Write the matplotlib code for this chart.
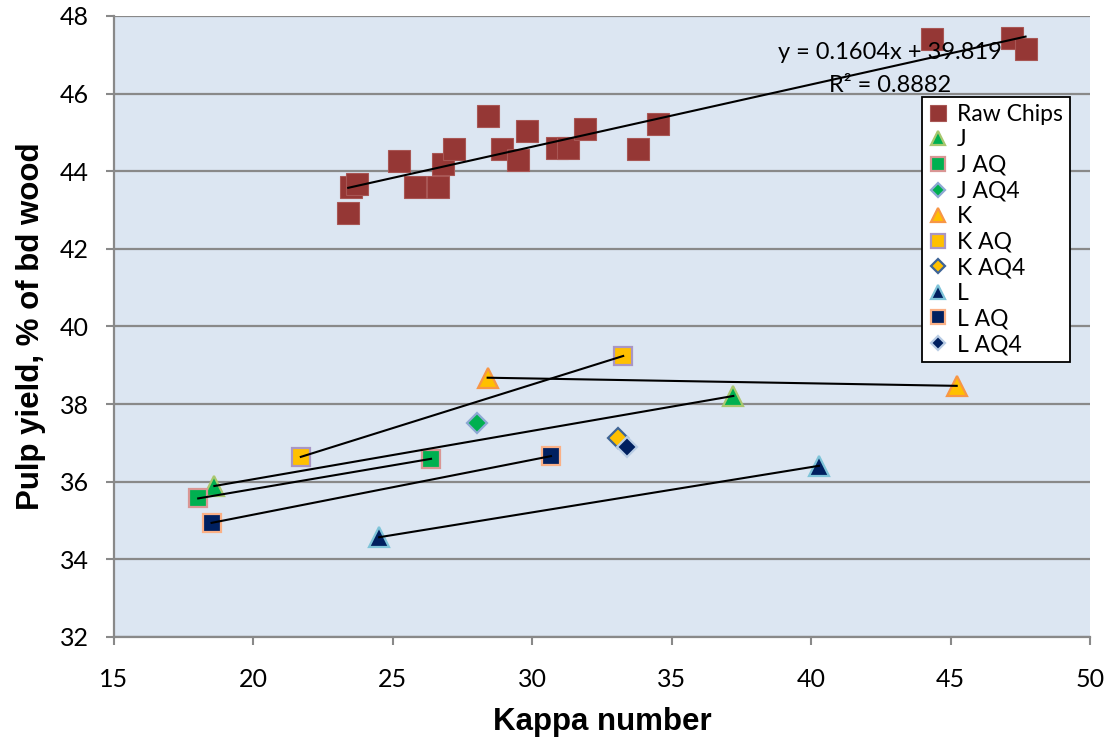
import matplotlib
matplotlib.use("Agg")
import matplotlib.pyplot as plt
import numpy as np

# Raw chips: kappa number vs pulp yield
raw_kappa = [23.40, 23.50, 23.70, 25.21, 25.80, 26.61, 26.81, 27.20, 28.40, 28.90,
             29.50, 29.80, 30.89, 31.29, 31.90, 33.80, 34.51, 44.32, 47.21, 47.69]
raw_yield = [42.93, 43.60, 43.67, 44.26, 43.60, 43.60, 44.19, 44.57, 45.41, 44.57,
             44.29, 45.04, 44.61, 44.61, 45.08, 44.57, 45.22, 47.40, 47.43, 47.14]

# Linear fit reported for raw chips
fit_slope = 0.1604
fit_intercept = 39.819
fit_r2 = 0.8882

# Treated series (kappa, yield)
j_kappa, j_yield = [18.60, 37.21], [35.89, 38.21]
jaq_kappa, jaq_yield = [18.02, 26.37], [35.57, 36.59]
jaq4_kappa, jaq4_yield = [28.02], [37.52]
k_kappa, k_yield = [28.40, 45.22], [38.68, 38.47]
kaq_kappa, kaq_yield = [21.70, 33.26], [36.64, 39.24]
kaq4_kappa, kaq4_yield = [33.08], [37.12]
l_kappa, l_yield = [24.51, 40.28], [34.57, 36.41]
laq_kappa, laq_yield = [18.50, 30.67], [34.94, 36.66]
laq4_kappa, laq4_yield = [33.38], [36.89]

x_ticks = [15, 20, 25, 30, 35, 40, 45, 50]
y_ticks = [32, 34, 36, 38, 40, 42, 44, 46, 48]

GREEN = "#00B050"
GOLD = "#FFC000"
NAVY = "#002060"

series = [
    ("Raw Chips", raw_kappa, raw_yield, "s", "#953735", "#A85654", 15.2, 0.8),
    ("J", j_kappa, j_yield, "^", GREEN, "#A9C76F", 14.0, 1.6),
    ("J AQ", jaq_kappa, jaq_yield, "s", GREEN, "#D99694", 13.5, 1.6),
    ("J AQ4", jaq4_kappa, jaq4_yield, "D", GREEN, "#8DA9D4", 10.0, 1.6),
    ("K", k_kappa, k_yield, "^", GOLD, "#F79646", 14.0, 1.6),
    ("K AQ", kaq_kappa, kaq_yield, "s", GOLD, "#A996C4", 13.5, 1.6),
    ("K AQ4", kaq4_kappa, kaq4_yield, "D", GOLD, "#3E6496", 10.0, 1.6),
    ("L", l_kappa, l_yield, "^", NAVY, "#7FC4D9", 14.0, 1.6),
    ("L AQ", laq_kappa, laq_yield, "s", NAVY, "#FAB086", 13.5, 1.6),
    ("L AQ4", laq4_kappa, laq4_yield, "D", NAVY, "#B9CDE5", 10.0, 1.6),
]

fig = plt.figure(figsize=(11.12, 7.43), dpi=100)
ax = fig.add_axes([0.1025, 0.1427, 0.8777, 0.8358])
ax.set_facecolor("#DCE6F2")

for label, xs, ys, mk, fc, ec, ms, mew in series:
    ax.plot(xs, ys, linestyle="none", marker=mk, markersize=ms,
            markerfacecolor=fc, markeredgecolor=ec, markeredgewidth=mew,
            label=label, zorder=3)

# Connecting lines for two-point series
for xs, ys in [(j_kappa, j_yield), (jaq_kappa, jaq_yield), (k_kappa, k_yield),
               (kaq_kappa, kaq_yield), (l_kappa, l_yield), (laq_kappa, laq_yield)]:
    ax.plot(xs, ys, color="black", linewidth=1.5, zorder=4)

# Raw chips trendline
fx = np.array([min(raw_kappa), max(raw_kappa)])
ax.plot(fx, fit_slope * fx + fit_intercept, color="black", linewidth=1.5, zorder=4)

ax.text(42.82, 47.05, f"y = {fit_slope}x + {fit_intercept}", ha="center", va="center",
        fontsize=17, family="Lato", zorder=5)
ax.text(42.82, 46.22, f"R² = {fit_r2}", ha="center", va="center",
        fontsize=17, family="Lato", zorder=5)

ax.set_xlim(15, 50)
ax.set_ylim(32, 48)
ax.set_xticks(x_ticks)
ax.set_yticks(y_ticks)
ax.yaxis.grid(True, color="#898989", linewidth=1.6)
ax.set_axisbelow(True)

for side in ("top", "right"):
    ax.spines[side].set_visible(False)
for side in ("left", "bottom"):
    ax.spines[side].set_color("#898989")
    ax.spines[side].set_linewidth(1.6)

ax.tick_params(axis="both", direction="out", color="#898989", width=1.5, length=6)
ax.tick_params(axis="x", pad=16)
ax.tick_params(axis="y", pad=12)
for lbl in ax.get_xticklabels() + ax.get_yticklabels():
    lbl.set_family("Lato")
    lbl.set_fontsize(18)

ax.set_xlabel("Kappa number", fontsize=22.5, fontweight="bold",
              family="Liberation Sans", labelpad=12)
ax.set_ylabel("Pulp yield, % of bd wood", fontsize=22.5, fontweight="bold",
              family="Liberation Sans", labelpad=10)

leg = ax.legend(loc="upper right", bbox_to_anchor=(0.9795, 0.8696),
                prop={"family": "Lato", "size": 16.5}, frameon=True, fancybox=False,
                markerscale=0.72, handlelength=0.8, handletextpad=0.45,
                labelspacing=0.2, borderpad=0.3, borderaxespad=0.0)
leg.get_frame().set_edgecolor("black")
leg.get_frame().set_linewidth(1.3)
leg.get_frame().set_facecolor("white")
leg.get_frame().set_alpha(1.0)
leg.set_zorder(6)

fig.savefig("out.png", dpi=100)
